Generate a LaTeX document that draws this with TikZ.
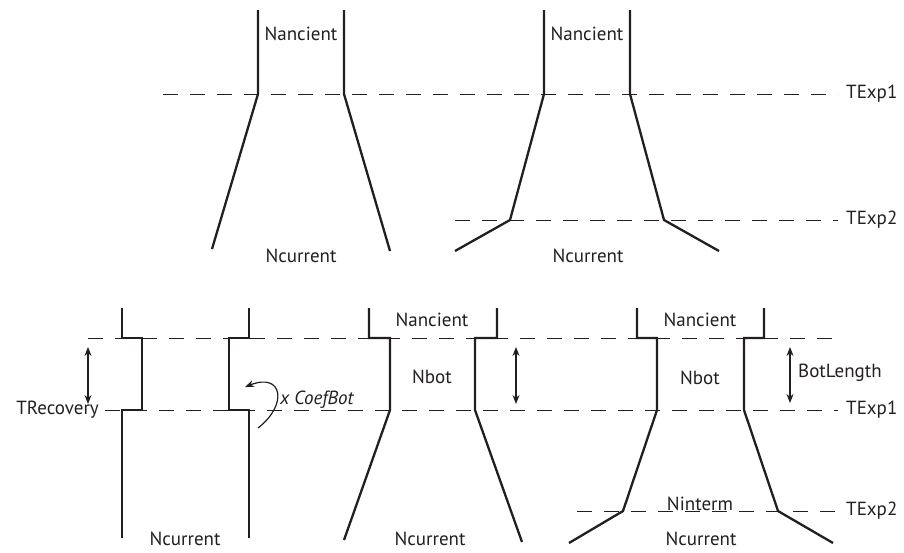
\documentclass[tikz,border=0pt]{standalone}
\usepackage{fontspec}
\setmainfont{PT Sans}
\usetikzlibrary{arrows.meta}
\definecolor{ink}{HTML}{231F20}
\tikzset{
  wall/.style={draw=ink, line width=2.3pt, line join=miter},
  level/.style={draw=ink, line width=0.9pt, dash pattern=on 15pt off 12pt},
  lbl/.style={text=ink, font=\fontsize{19}{21}\selectfont, inner sep=2pt},
  span/.style={draw=ink, line width=1.2pt, {Stealth[length=9pt,width=7pt]}-{Stealth[length=9pt,width=7pt]}},
  curlarrow/.style={draw=ink, line width=1.2pt, -{Stealth[length=9pt,width=7pt]}}
}
\begin{document}
\begin{tikzpicture}[x=1pt,y=-1pt]
\useasboundingbox (0,0) rectangle (904,552);
% ---- level labels
\node[lbl, anchor=west] (t1a) at (844,94) {TExp1};
\node[lbl, anchor=west] (t2a) at (844,220) {TExp2};
\node[lbl, anchor=west] (t1b) at (844,410) {TExp1};
\node[lbl, anchor=west] (t2b) at (844,511) {TExp2};
\node[lbl, anchor=east] (trec) at (101,410) {TRecovery};
% ---- dashed level lines
\coordinate (d1s) at (163,94);
\coordinate (d2s) at (455,220);
\coordinate (d3s) at (88,338);
\coordinate (d3e) at (836,338);
\coordinate (d5s) at (577,511);
\draw[level, shorten >=6pt] (d1s) -- (t1a.west);
\draw[level, shorten >=6pt] (d2s) -- (t2a.west);
\draw[level] (d3s) -- (d3e);
\draw[level, shorten <=4pt, shorten >=6pt] (trec.east) -- (t1b.west);
\draw[level, shorten >=6pt] (d5s) -- (t2b.west);
% ---- top-left
\draw[wall] (258,10) -- (258,94) -- (212,249);
\draw[wall] (344,10) -- (344,94) -- (390,251);
\node[lbl] (na1) at (301,34) {Nancient};
\node[lbl] (nc1) at (301,256) {Ncurrent};
% ---- top-right
\draw[wall] (544,10) -- (544,94) -- (510,220) -- (455,251);
\draw[wall] (630,10) -- (630,94) -- (664,220) -- (719,251);
\node[lbl] (na2) at (587,34) {Nancient};
\node[lbl] (nc2) at (588,256) {Ncurrent};
% ---- bottom-left
\draw[wall] (122,308) -- (122,338) -- (142,338) -- (142,410) -- (122,410) -- (122,538);
\draw[wall] (249,308) -- (249,338) -- (229,338) -- (229,410) -- (249,410) -- (249,538);
\coordinate (a1t) at (88,347);
\coordinate (a1b) at (88,404);
\draw[span] (a1t) -- (a1b);
\node[lbl, anchor=west, font=\fontsize{19}{21}\selectfont\itshape] (coef) at (278,400) {x CoefBot};
\coordinate (cbs) at (258,428);
\coordinate (cbe) at (245,387);
\draw[curlarrow] (cbs) .. controls (288,405) and (283,372) .. (cbe);
\node[lbl] (nc3) at (185,539) {Ncurrent};
% ---- bottom-middle
\draw[wall] (369,308) -- (369,338) -- (390,338) -- (390,410) -- (344,540);
\draw[wall] (497,308) -- (497,338) -- (475,338) -- (475,410) -- (522,542);
\coordinate (a2t) at (516,347);
\coordinate (a2b) at (516,404);
\draw[span] (a2t) -- (a2b);
\node[lbl] (na3) at (432,320) {Nancient};
\node[lbl] (nb3) at (432,377) {Nbot};
\node[lbl] (nc4) at (430,539) {Ncurrent};
% ---- bottom-right
\draw[wall] (637,308) -- (637,338) -- (657,338) -- (657,410) -- (623,511) -- (569,543);
\draw[wall] (764,308) -- (764,338) -- (744,338) -- (744,410) -- (778,511) -- (833,543);
\coordinate (a3t) at (790,347);
\coordinate (a3b) at (790,403);
\draw[span] (a3t) -- (a3b);
\node[lbl, anchor=west] (bl) at (796,373) {BotLength};
\node[lbl] (na4) at (700,320) {Nancient};
\node[lbl] (nb4) at (700,378) {Nbot};
\node[lbl, anchor=base] (ni) at (700,510) {Ninterm};
\node[lbl] (nc5) at (701,539) {Ncurrent};
\end{tikzpicture}
\end{document}
